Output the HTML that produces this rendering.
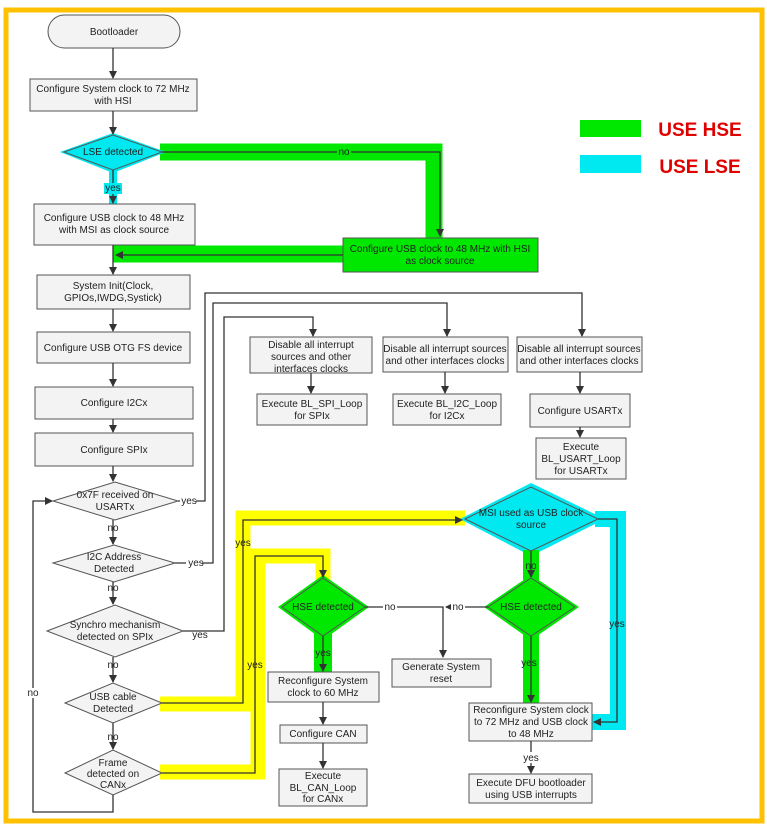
<!DOCTYPE html>
<html><head><meta charset="utf-8"><style>
html,body{margin:0;padding:0;background:#fff;}
svg{display:block;}
text{font-family:"Liberation Sans Narrow","Liberation Sans",sans-serif;font-size:10px;fill:#222;text-anchor:middle;}
.b{fill:#f3f3f3;stroke:#555;stroke-width:1;}
.l{stroke:#333;stroke-width:1.3;fill:none;}
.g{stroke:#00e800;fill:none;}
.c{stroke:#00e8f0;fill:none;}
.y{stroke:#ffff00;fill:none;}
</style></head><body>
<svg width="767" height="825" viewBox="0 0 767 825" xmlns="http://www.w3.org/2000/svg">
<defs>
<marker id="a" markerWidth="8" markerHeight="8" refX="7" refY="4" orient="auto" markerUnits="userSpaceOnUse"><path d="M0,0 L8,4 L0,8 z" fill="#333"/></marker>
</defs>
<rect x="6" y="10" width="756" height="811" fill="#fff" stroke="#ffc000" stroke-width="5"/>

<!-- highlights -->
<polyline class="g" stroke-width="17" points="160,152 434,152 434,245"/>
<polyline class="g" stroke-width="17" points="345,254 113,254"/>
<line class="c" x1="113" y1="165" x2="113" y2="205" stroke-width="8"/>
<polygon points="60,152 113,133 166,152 113,173" fill="#00e8f0"/>
<polyline class="y" stroke-width="15" points="160,704 243,704 243,518 465,518"/>
<polyline class="y" stroke-width="15" points="160,772 258,772 258,556 323,556 323,580"/>
<polyline class="c" stroke-width="16" points="595,519 618,519 618,722 592,722"/>
<polygon points="460,519 531,483 605,519 531,556" fill="#00e8f0"/>
<line class="g" x1="531" y1="550" x2="531" y2="580" stroke-width="16"/>
<line class="g" x1="531" y1="630" x2="531" y2="703" stroke-width="16"/>
<line class="g" x1="323" y1="630" x2="323" y2="672" stroke-width="18"/>
<polygon points="278,607 323,575 369,607 323,640" fill="#00e800"/>
<polygon points="484,607 531,575 579,607 531,640" fill="#00e800"/>

<!-- legend -->
<rect x="580" y="120" width="61" height="17" fill="#00e800"/>
<rect x="580" y="155" width="61" height="18" fill="#00e8f0"/>
<text x="700" y="136" style="font-family:'Liberation Sans',sans-serif;font-size:19px;font-weight:bold;fill:#e00000">USE HSE</text>
<text x="700" y="173" style="font-family:'Liberation Sans',sans-serif;font-size:19px;font-weight:bold;fill:#e00000">USE LSE</text>

<!-- main column -->
<rect class="b" x="48" y="15" width="132" height="33" rx="16.5"/>
<text x="114" y="35">Bootloader</text>
<line class="l" x1="113" y1="48" x2="113" y2="78" marker-end="url(#a)"/>
<rect class="b" x="30" y="79" width="167" height="32"/>
<text x="113" y="92">Configure System clock to 72 MHz</text><text x="113" y="104">with HSI</text>
<line class="l" x1="113" y1="111" x2="113" y2="134" marker-end="url(#a)"/>
<polygon points="64,152 113,135 162,152 113,170" fill="#00e8f0" stroke="#555"/>
<text x="113" y="155">LSE detected</text>
<line class="l" x1="113" y1="170" x2="113" y2="203" marker-end="url(#a)"/>
<rect x="104" y="183" width="18" height="11" fill="#00e8f0"/>
<text x="113" y="191">yes</text>
<polyline class="l" points="162,152 440,152 440,236" marker-end="url(#a)"/>
<rect x="337" y="147" width="14" height="10" fill="#00e800"/><text x="344" y="155">no</text>
<rect class="b" x="34" y="204" width="161" height="41"/>
<text x="114" y="221">Configure USB clock to 48 MHz</text><text x="114" y="233">with MSI as clock source</text>
<rect x="343" y="238" width="195" height="34" fill="#00e800" stroke="#555"/>
<text x="440" y="252">Configure USB clock to 48 MHz with HSI</text><text x="440" y="264">as clock source</text>
<line class="l" x1="343" y1="255" x2="116" y2="255" marker-end="url(#a)"/>
<line class="l" x1="113" y1="245" x2="113" y2="274" marker-end="url(#a)"/>
<rect class="b" x="37" y="275" width="153" height="34"/>
<text x="113" y="289">System Init(Clock,</text><text x="113" y="301">GPIOs,IWDG,Systick)</text>
<line class="l" x1="113" y1="309" x2="113" y2="331" marker-end="url(#a)"/>
<rect class="b" x="37" y="332" width="153" height="31"/>
<text x="113" y="351">Configure USB OTG FS device</text>
<line class="l" x1="113" y1="363" x2="113" y2="386" marker-end="url(#a)"/>
<rect class="b" x="35" y="387" width="158" height="32"/>
<text x="114" y="406">Configure I2Cx</text>
<line class="l" x1="113" y1="419" x2="113" y2="432" marker-end="url(#a)"/>
<rect class="b" x="35" y="433" width="158" height="33"/>
<text x="114" y="453">Configure SPIx</text>
<line class="l" x1="113" y1="466" x2="113" y2="481" marker-end="url(#a)"/>

<polygon class="b" points="53,501 115,482 178,501 115,520"/>
<text x="115" y="498">0x7F received on</text><text x="115" y="510">USARTx</text>
<line class="l" x1="113" y1="520" x2="113" y2="544" marker-end="url(#a)"/>
<text x="113" y="531">no</text>
<polygon class="b" points="53,563 114,545 175,563 114,582"/>
<text x="114" y="560">I2C Address</text><text x="114" y="572">Detected</text>
<line class="l" x1="113" y1="582" x2="113" y2="604" marker-end="url(#a)"/>
<text x="113" y="591">no</text>
<polygon class="b" points="47,631 115,605 183,631 115,657"/>
<text x="115" y="628">Synchro mechanism</text><text x="115" y="640">detected on SPIx</text>
<line class="l" x1="113" y1="657" x2="113" y2="682" marker-end="url(#a)"/>
<text x="113" y="668">no</text>
<polygon class="b" points="65,703 113,683 162,703 113,723"/>
<text x="113" y="700">USB cable</text><text x="113" y="712">Detected</text>
<line class="l" x1="113" y1="723" x2="113" y2="749" marker-end="url(#a)"/>
<text x="113" y="740">no</text>
<polygon class="b" points="65,773 113,750 162,773 113,795"/>
<text x="113" y="766">Frame</text><text x="113" y="777">detected on</text><text x="113" y="788">CANx</text>
<polyline class="l" points="113,795 113,812 33,812 33,501 52,501" marker-end="url(#a)"/>
<rect x="27" y="688" width="12" height="10" fill="#fff"/><text x="33" y="696">no</text>

<!-- loops to right -->
<polyline class="l" points="178,501 205,501 205,293 582,293 582,336" marker-end="url(#a)"/>
<rect x="180" y="496" width="16" height="10" fill="#fff"/><text x="189" y="504">yes</text>
<polyline class="l" points="175,563 213,563 213,303 447,303 447,336" marker-end="url(#a)"/>
<rect x="186" y="558" width="16" height="10" fill="#fff"/><text x="196" y="566">yes</text>
<polyline class="l" points="183,631 224,631 224,317 313,317 313,336" marker-end="url(#a)"/>
<text x="200" y="638">yes</text>

<rect class="b" x="250" y="337" width="122" height="36"/>
<text x="311" y="348">Disable all interrupt</text><text x="311" y="360">sources and other</text><text x="311" y="372">interfaces clocks</text>
<rect class="b" x="383" y="337" width="125" height="35"/>
<text x="445" y="352">Disable all interrupt sources</text><text x="445" y="364">and other interfaces clocks</text>
<rect class="b" x="517" y="337" width="125" height="35"/>
<text x="579" y="352">Disable all interrupt sources</text><text x="579" y="364">and other interfaces clocks</text>
<line class="l" x1="311" y1="373" x2="311" y2="393" marker-end="url(#a)"/>
<line class="l" x1="445" y1="372" x2="445" y2="393" marker-end="url(#a)"/>
<line class="l" x1="580" y1="372" x2="580" y2="393" marker-end="url(#a)"/>
<rect class="b" x="257" y="394" width="110" height="31"/>
<text x="312" y="407">Execute BL_SPI_Loop</text><text x="312" y="419">for SPIx</text>
<rect class="b" x="393" y="394" width="108" height="31"/>
<text x="447" y="407">Execute BL_I2C_Loop</text><text x="447" y="419">for I2Cx</text>
<rect class="b" x="530" y="394" width="100" height="33"/>
<text x="580" y="414">Configure USARTx</text>
<line class="l" x1="580" y1="427" x2="580" y2="437" marker-end="url(#a)"/>
<rect class="b" x="536" y="438" width="90" height="41"/>
<text x="581" y="450">Execute</text><text x="581" y="462">BL_USART_Loop</text><text x="581" y="474">for USARTx</text>

<!-- USB / CAN paths -->
<polyline class="l" points="162,703 243,703 243,520 462,520" marker-end="url(#a)"/>
<text x="243" y="546">yes</text>
<polyline class="l" points="162,773 255,773 255,556 323,556 323,577" marker-end="url(#a)"/>
<text x="255" y="668">yes</text>

<polygon points="465,519 531,487 598,519 531,551" fill="#00e8f0" stroke="#555"/>
<text x="531" y="516">MSI used as USB clock</text><text x="531" y="528">source</text>
<line class="l" x1="531" y1="551" x2="531" y2="577" marker-end="url(#a)"/>
<text x="531" y="569">no</text>
<polyline class="l" points="598,519 617,519 617,722 594,722" marker-end="url(#a)"/>
<text x="617" y="627">yes</text>

<polygon points="282,607 323,578 365,607 323,636" fill="#00e800" stroke="#555"/>
<text x="323" y="610">HSE detected</text>
<polygon points="488,607 531,578 575,607 531,636" fill="#00e800" stroke="#555"/>
<text x="531" y="610">HSE detected</text>
<polyline class="l" points="365,607 443,607 443,657" marker-end="url(#a)"/>
<rect x="383" y="602" width="14" height="10" fill="#fff"/><text x="390" y="610">no</text>
<line class="l" x1="488" y1="607" x2="446" y2="607" marker-end="url(#a)"/>
<rect x="451" y="602" width="14" height="10" fill="#fff"/><text x="458" y="610">no</text>

<line class="l" x1="323" y1="636" x2="323" y2="671" marker-end="url(#a)"/>
<text x="323" y="656">yes</text>
<line class="l" x1="531" y1="636" x2="531" y2="702" marker-end="url(#a)"/>
<text x="529" y="666">yes</text>

<rect class="b" x="392" y="659" width="99" height="28"/>
<text x="441" y="670">Generate System</text><text x="441" y="682">reset</text>
<rect class="b" x="268" y="672" width="111" height="30"/>
<text x="323" y="684">Reconfigure System</text><text x="323" y="696">clock to 60 MHz</text>
<line class="l" x1="323" y1="702" x2="323" y2="724" marker-end="url(#a)"/>
<rect class="b" x="280" y="725" width="87" height="18"/>
<text x="323" y="737">Configure CAN</text>
<line class="l" x1="323" y1="743" x2="323" y2="768" marker-end="url(#a)"/>
<rect class="b" x="279" y="769" width="88" height="37"/>
<text x="323" y="779">Execute</text><text x="323" y="791">BL_CAN_Loop</text><text x="323" y="802">for CANx</text>

<rect class="b" x="469" y="703" width="123" height="38"/>
<text x="531" y="713">Reconfigure System clock</text><text x="531" y="725">to 72 MHz and USB clock</text><text x="531" y="737">to 48 MHz</text>
<line class="l" x1="531" y1="741" x2="531" y2="773" marker-end="url(#a)"/>
<rect x="523" y="752" width="16" height="11" fill="#fff"/><text x="531" y="761">yes</text>
<rect class="b" x="469" y="774" width="123" height="29"/>
<text x="531" y="786">Execute DFU bootloader</text><text x="531" y="798">using USB interrupts</text>
</svg>
</body></html>
